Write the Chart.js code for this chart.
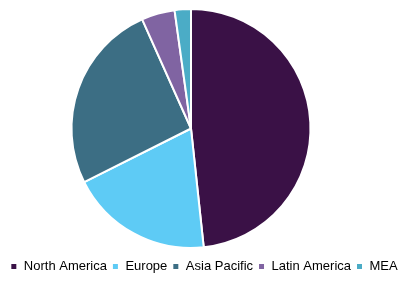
<!DOCTYPE html>
<html>
<head>
<meta charset="utf-8">
<script src="https://cdn.jsdelivr.net/npm/chart.js@4"></script>
<style>
  html, body { margin: 0; padding: 0; background: #fff; }
  #wrap { width: 408px; height: 285px; }
</style>
</head>
<body>
<div id="wrap"><canvas id="chart"></canvas></div>
<script>
// regional share (%)
const regions = ['North America', 'Europe', 'Asia Pacific', 'Latin America', 'MEA'];
const shares = [48.3, 19.3, 25.7, 4.5, 2.2];
const colors = ['#3a1146', '#5ecbf5', '#3c6e84', '#8064a2', '#4bacc6'];

// pie sits a little left of centre in the original, legend does not
const shiftPie = {
    id: 'shiftPie',
    afterLayout(chart) {
        const a = chart.chartArea;
        a.right -= 26;
        a.width -= 26;
        a.bottom -= 6;
        a.height -= 6;
    }
};

new Chart(document.getElementById('chart'), {
    type: 'pie',
    data: {
        labels: regions,
        datasets: [{ data: shares, backgroundColor: colors, borderColor: '#ffffff', borderWidth: 2 }]
    },
    options: {
        responsive: true,
        maintainAspectRatio: false,
        animation: false,
        layout: { padding: { left: 0, right: 0, top: 8, bottom: 2 } },
        plugins: {
            tooltip: { enabled: false },
            legend: {
                position: 'bottom',
                labels: {
                    boxWidth: 7, boxHeight: 7, padding: 5,
                    color: '#000',
                    font: { family: 'Liberation Sans, Arial', size: 13 }
                }
            }
        }
    },
    plugins: [shiftPie]
});
</script>
</body>
</html>
